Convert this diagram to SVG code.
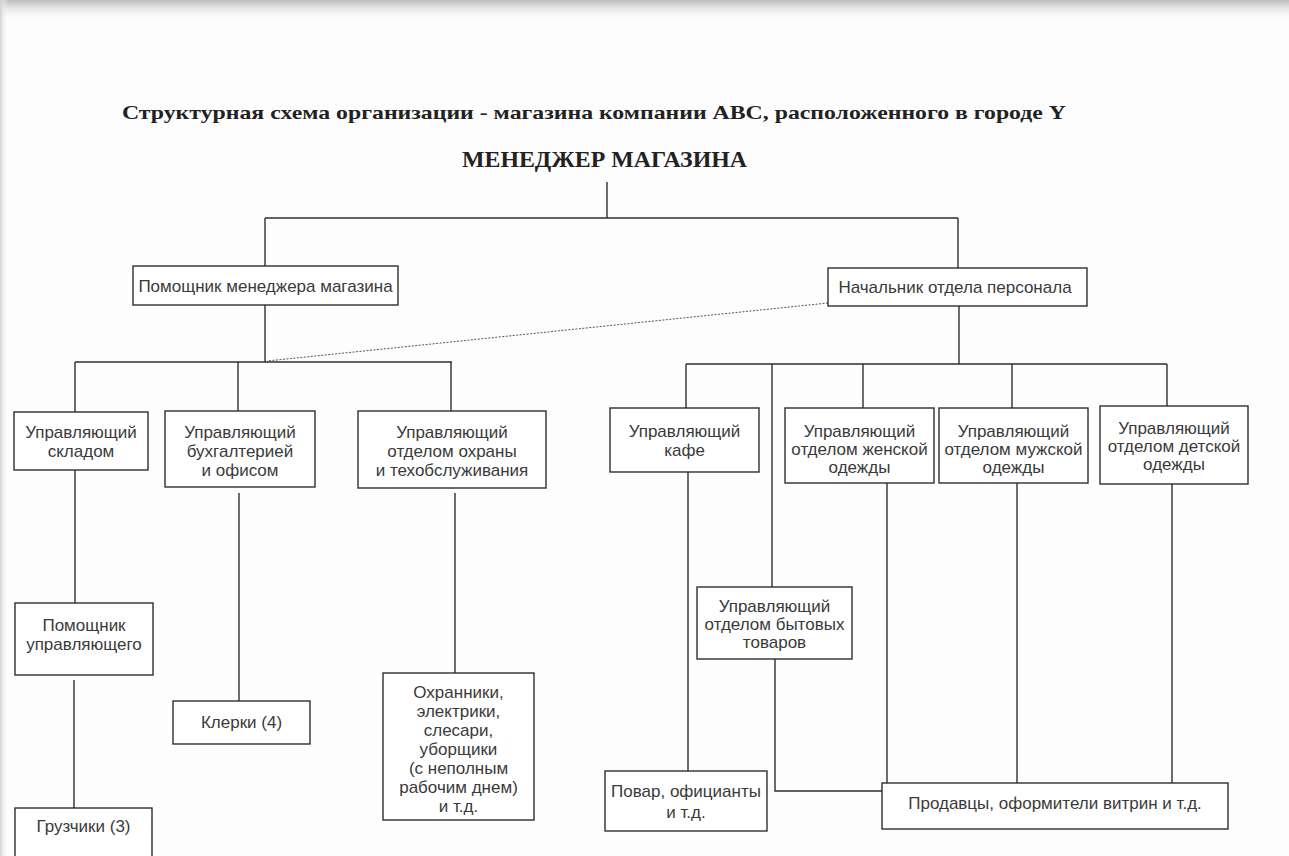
<svg xmlns="http://www.w3.org/2000/svg" width="1289" height="856" viewBox="0 0 1289 856">
<defs>
<linearGradient id="topShade" x1="0" y1="0" x2="0" y2="1">
<stop offset="0" stop-color="#bdbdbd"/>
<stop offset="1" stop-color="#ffffff" stop-opacity="0"/>
</linearGradient>
<linearGradient id="leftShade" x1="0" y1="0" x2="1" y2="0">
<stop offset="0" stop-color="#d0d0d0"/>
<stop offset="1" stop-color="#ffffff" stop-opacity="0"/>
</linearGradient>
</defs>
<style>
.bg{fill:#fdfdfd}
.box{fill:#ffffff;stroke:#2e2e2e;stroke-width:1.4}
.ln{fill:none;stroke:#2e2e2e;stroke-width:1.4}
.dash{fill:none;stroke:#555;stroke-width:1;stroke-dasharray:2 1.5}
.t{font-family:"Liberation Sans",Arial,sans-serif;font-size:17px;fill:#3a3a3a;text-anchor:middle}
.title{font-family:"Liberation Serif","Times New Roman",serif;font-weight:bold;fill:#222}
</style>
<rect class="bg" x="0" y="0" width="1289" height="856"/>
<rect x="0" y="0" width="1289" height="22" fill="url(#topShade)"/>
<rect x="0" y="0" width="8" height="856" fill="url(#leftShade)"/>

<g id="title">
<text class="title" x="122" y="119" font-size="19" textLength="944" lengthAdjust="spacingAndGlyphs">Структурная схема организации - магазина компании ABC, расположенного в городе Y</text>
</g>

<g id="connectors">
<line class="ln" x1="607" y1="182" x2="607" y2="218"/>
<line class="ln" x1="265" y1="218" x2="958" y2="218"/>
<line class="ln" x1="265" y1="218" x2="265" y2="266"/>
<line class="ln" x1="958" y1="218" x2="958" y2="268"/>
<line class="ln" x1="265" y1="305" x2="265" y2="362"/>
<line class="ln" x1="75" y1="362" x2="452" y2="362"/>
<line class="ln" x1="75" y1="362" x2="75" y2="412"/>
<line class="ln" x1="238" y1="362" x2="238" y2="411"/>
<line class="ln" x1="451" y1="362" x2="451" y2="411"/>
<line class="dash" x1="828" y1="303" x2="267" y2="361"/>
<line class="ln" x1="959" y1="306" x2="959" y2="364"/>
<line class="ln" x1="686" y1="364" x2="1167" y2="364"/>
<line class="ln" x1="686" y1="364" x2="686" y2="408"/>
<line class="ln" x1="772" y1="364" x2="772" y2="587"/>
<line class="ln" x1="863" y1="364" x2="863" y2="408"/>
<line class="ln" x1="1012" y1="364" x2="1012" y2="408"/>
<line class="ln" x1="1167" y1="364" x2="1167" y2="406"/>
<line class="ln" x1="75" y1="470" x2="75" y2="603"/>
<line class="ln" x1="74" y1="680" x2="74" y2="808"/>
<line class="ln" x1="239" y1="493" x2="239" y2="701"/>
<line class="ln" x1="455" y1="493" x2="455" y2="673"/>
<line class="ln" x1="688" y1="472" x2="688" y2="771"/>
<polyline class="ln" points="775,659 775,791 882,791"/>
<line class="ln" x1="887" y1="483" x2="887" y2="783"/>
<line class="ln" x1="1017" y1="483" x2="1017" y2="783"/>
<line class="ln" x1="1172" y1="484" x2="1172" y2="783"/>
</g>

<g id="store-manager">
<text class="title" x="462" y="167" font-size="23" textLength="285" lengthAdjust="spacingAndGlyphs">МЕНЕДЖЕР МАГАЗИНА</text>
</g>

<g id="assistant-manager">
<rect class="box" x="133" y="266" width="265" height="39"/>
<text class="t" x="265.5" y="292">Помощник менеджера магазина</text>
</g>

<g id="hr-head">
<rect class="box" x="828" y="268" width="259" height="38"/>
<text class="t" x="955" y="293">Начальник отдела персонала</text>
</g>

<g id="warehouse-manager">
<rect class="box" x="14" y="412" width="134" height="58"/>
<text class="t" x="81" y="438">Управляющий</text>
<text class="t" x="81" y="457">складом</text>
</g>

<g id="accounting-manager">
<rect class="box" x="165" y="411" width="150" height="76"/>
<text class="t" x="240" y="438">Управляющий</text>
<text class="t" x="240" y="457">бухгалтерией</text>
<text class="t" x="240" y="476">и офисом</text>
</g>

<g id="security-manager">
<rect class="box" x="358" y="411" width="188" height="77"/>
<text class="t" x="452" y="438">Управляющий</text>
<text class="t" x="452" y="457">отделом охраны</text>
<text class="t" x="452" y="476">и техобслуживания</text>
</g>

<g id="cafe-manager">
<rect class="box" x="610" y="408" width="149" height="64"/>
<text class="t" x="684.5" y="437">Управляющий</text>
<text class="t" x="684.5" y="456">кафе</text>
</g>

<g id="womens-manager">
<rect class="box" x="785" y="408" width="149" height="75"/>
<text class="t" x="859.5" y="437">Управляющий</text>
<text class="t" x="859.5" y="455">отделом женской</text>
<text class="t" x="859.5" y="473">одежды</text>
</g>

<g id="mens-manager">
<rect class="box" x="939" y="408" width="149" height="75"/>
<text class="t" x="1013.5" y="437">Управляющий</text>
<text class="t" x="1013.5" y="455">отделом мужской</text>
<text class="t" x="1013.5" y="473">одежды</text>
</g>

<g id="kids-manager">
<rect class="box" x="1100" y="406" width="148" height="78"/>
<text class="t" x="1174" y="434">Управляющий</text>
<text class="t" x="1174" y="452">отделом детской</text>
<text class="t" x="1174" y="470">одежды</text>
</g>

<g id="assistant-warehouse">
<rect class="box" x="15" y="603" width="138" height="72"/>
<text class="t" x="84" y="631">Помощник</text>
<text class="t" x="84" y="650">управляющего</text>
</g>

<g id="loaders">
<rect class="box" x="15" y="808" width="137" height="60"/>
<text class="t" x="83.5" y="832">Грузчики (3)</text>
</g>

<g id="clerks">
<rect class="box" x="173" y="701" width="137" height="43"/>
<text class="t" x="241.5" y="728">Клерки (4)</text>
</g>

<g id="security-staff">
<rect class="box" x="383" y="673" width="151" height="147"/>
<text class="t" x="458.5" y="698">Охранники,</text>
<text class="t" x="458.5" y="717">электрики,</text>
<text class="t" x="458.5" y="736">слесари,</text>
<text class="t" x="458.5" y="755">уборщики</text>
<text class="t" x="458.5" y="774">(с неполным</text>
<text class="t" x="458.5" y="793">рабочим днем)</text>
<text class="t" x="458.5" y="812">и т.д.</text>
</g>

<g id="household-manager">
<rect class="box" x="697" y="587" width="155" height="72"/>
<text class="t" x="774.5" y="612">Управляющий</text>
<text class="t" x="774.5" y="630">отделом бытовых</text>
<text class="t" x="774.5" y="648">товаров</text>
</g>

<g id="cooks">
<rect class="box" x="605" y="771" width="162" height="60"/>
<text class="t" x="686" y="797">Повар, официанты</text>
<text class="t" x="686" y="818">и т.д.</text>
</g>

<g id="sellers">
<rect class="box" x="882" y="783" width="346" height="46"/>
<text class="t" x="1055" y="809">Продавцы, оформители витрин и т.д.</text>
</g>
</svg>
